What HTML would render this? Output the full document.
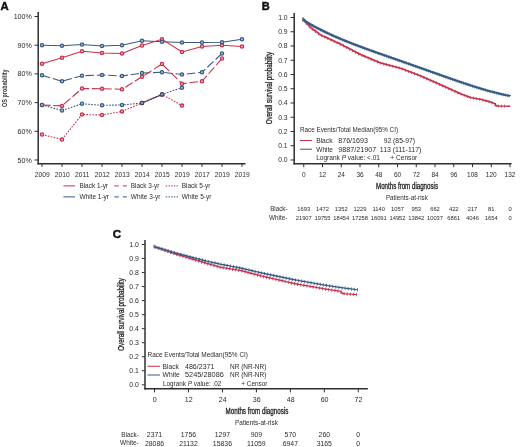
<!DOCTYPE html>
<html><head><meta charset="utf-8"><style>
html,body{margin:0;padding:0;background:#fff;}
body{width:520px;height:447px;overflow:hidden;}
svg{display:block;filter:blur(0.35px);}
text{font-family:"Liberation Sans",sans-serif;}
</style></head><body>
<svg width="520" height="447" viewBox="0 0 520 447" shape-rendering="geometricPrecision">
<rect width="520" height="447" fill="#fff"/>
<text x="0.6" y="10.1" font-size="11.2" fill="#111" text-anchor="start" font-weight="bold" textLength="8.2" lengthAdjust="spacingAndGlyphs" stroke="#111" stroke-width="0.45">A</text>
<text x="31.8" y="19.0" font-size="7.1" fill="#2c2c2c" text-anchor="end" font-weight="normal">100%</text>
<line x1="34.5" y1="16.5" x2="38" y2="16.5" stroke="#2f2f2f" stroke-width="1"/>
<text x="31.8" y="47.7" font-size="7.1" fill="#2c2c2c" text-anchor="end" font-weight="normal">90%</text>
<line x1="34.5" y1="45.2" x2="38" y2="45.2" stroke="#2f2f2f" stroke-width="1"/>
<text x="31.8" y="76.4" font-size="7.1" fill="#2c2c2c" text-anchor="end" font-weight="normal">80%</text>
<line x1="34.5" y1="73.9" x2="38" y2="73.9" stroke="#2f2f2f" stroke-width="1"/>
<text x="31.8" y="105.10000000000001" font-size="7.1" fill="#2c2c2c" text-anchor="end" font-weight="normal">70%</text>
<line x1="34.5" y1="102.60000000000001" x2="38" y2="102.60000000000001" stroke="#2f2f2f" stroke-width="1"/>
<text x="31.8" y="133.8" font-size="7.1" fill="#2c2c2c" text-anchor="end" font-weight="normal">60%</text>
<line x1="34.5" y1="131.3" x2="38" y2="131.3" stroke="#2f2f2f" stroke-width="1"/>
<text x="31.8" y="162.5" font-size="7.1" fill="#2c2c2c" text-anchor="end" font-weight="normal">50%</text>
<line x1="34.5" y1="160.0" x2="38" y2="160.0" stroke="#2f2f2f" stroke-width="1"/>
<line x1="38.2" y1="12" x2="38.2" y2="164.5" stroke="#2f2f2f" stroke-width="1.5"/>
<line x1="37.5" y1="163.8" x2="245.5" y2="163.8" stroke="#2f2f2f" stroke-width="1.5"/>
<line x1="42" y1="163.8" x2="42" y2="166.8" stroke="#2f2f2f" stroke-width="1"/>
<text x="42.2" y="176.9" font-size="6.7" fill="#2c2c2c" text-anchor="middle" font-weight="normal">2009</text>
<line x1="62" y1="163.8" x2="62" y2="166.8" stroke="#2f2f2f" stroke-width="1"/>
<text x="62.2" y="176.9" font-size="6.7" fill="#2c2c2c" text-anchor="middle" font-weight="normal">2010</text>
<line x1="82" y1="163.8" x2="82" y2="166.8" stroke="#2f2f2f" stroke-width="1"/>
<text x="82.2" y="176.9" font-size="6.7" fill="#2c2c2c" text-anchor="middle" font-weight="normal">2011</text>
<line x1="102" y1="163.8" x2="102" y2="166.8" stroke="#2f2f2f" stroke-width="1"/>
<text x="102.2" y="176.9" font-size="6.7" fill="#2c2c2c" text-anchor="middle" font-weight="normal">2012</text>
<line x1="122" y1="163.8" x2="122" y2="166.8" stroke="#2f2f2f" stroke-width="1"/>
<text x="122.2" y="176.9" font-size="6.7" fill="#2c2c2c" text-anchor="middle" font-weight="normal">2013</text>
<line x1="142" y1="163.8" x2="142" y2="166.8" stroke="#2f2f2f" stroke-width="1"/>
<text x="142.2" y="176.9" font-size="6.7" fill="#2c2c2c" text-anchor="middle" font-weight="normal">2014</text>
<line x1="162" y1="163.8" x2="162" y2="166.8" stroke="#2f2f2f" stroke-width="1"/>
<text x="162.2" y="176.9" font-size="6.7" fill="#2c2c2c" text-anchor="middle" font-weight="normal">2015</text>
<line x1="182" y1="163.8" x2="182" y2="166.8" stroke="#2f2f2f" stroke-width="1"/>
<text x="182.2" y="176.9" font-size="6.7" fill="#2c2c2c" text-anchor="middle" font-weight="normal">2019</text>
<line x1="202" y1="163.8" x2="202" y2="166.8" stroke="#2f2f2f" stroke-width="1"/>
<text x="202.2" y="176.9" font-size="6.7" fill="#2c2c2c" text-anchor="middle" font-weight="normal">2017</text>
<line x1="222" y1="163.8" x2="222" y2="166.8" stroke="#2f2f2f" stroke-width="1"/>
<text x="222.2" y="176.9" font-size="6.7" fill="#2c2c2c" text-anchor="middle" font-weight="normal">2019</text>
<line x1="242" y1="163.8" x2="242" y2="166.8" stroke="#2f2f2f" stroke-width="1"/>
<text x="242.2" y="176.9" font-size="6.7" fill="#2c2c2c" text-anchor="middle" font-weight="normal">2019</text>
<text transform="translate(7.4,88.2) rotate(-90)" font-size="7.8" font-weight="bold" fill="#333333" text-anchor="middle" textLength="37.5" lengthAdjust="spacingAndGlyphs">OS probability</text>
<polyline points="42,45.25 62,45.75 82,44.5 102,46 122,45.25 142,40.75 162,41.75 182,42.5 202,42.5 222,42.25 242,39.25" fill="none" stroke="#375a85" stroke-width="1.1"/>
<polyline points="42,63.75 62,57.75 82,51.25 102,53 122,53.5 142,45.5 162,39.25 182,52 202,46.5 222,45.25 242,46.5" fill="none" stroke="#c5304d" stroke-width="1.1"/>
<polyline points="42,75.25 62,81.25 82,75.75 102,75 122,76 142,73 162,72.25 182,74.5 202,72.25 222,53.5" fill="none" stroke="#375a85" stroke-width="1.1" stroke-dasharray="8.5,2.8"/>
<polyline points="42,105 62,105.9 82,88.5 102,88.75 122,89.25 142,76.75 162,64 182,83.75 202,81.25 222,58.5" fill="none" stroke="#c5304d" stroke-width="1.1" stroke-dasharray="8.5,2.8"/>
<polyline points="42,105 62,110.5 82,103.8 102,105.3 122,105 142,103 162,94.4 182,87.7" fill="none" stroke="#375a85" stroke-width="1.1" stroke-dasharray="1.6,1.4"/>
<polyline points="42,134.5 62,139.5 82,114.5 102,115 122,111.4 142,103 162,94.4 182,105.6" fill="none" stroke="#c5304d" stroke-width="1.1" stroke-dasharray="1.6,1.4"/>
<line x1="142" y1="103" x2="162" y2="94.4" stroke="#4a4670" stroke-width="1.1"/>
<circle cx="42" cy="63.75" r="1.6" fill="#eab4bf" stroke="#c5304d" stroke-width="1.3"/>
<circle cx="62" cy="57.75" r="1.6" fill="#eab4bf" stroke="#c5304d" stroke-width="1.3"/>
<circle cx="82" cy="51.25" r="1.6" fill="#eab4bf" stroke="#c5304d" stroke-width="1.3"/>
<circle cx="102" cy="53" r="1.6" fill="#eab4bf" stroke="#c5304d" stroke-width="1.3"/>
<circle cx="122" cy="53.5" r="1.6" fill="#eab4bf" stroke="#c5304d" stroke-width="1.3"/>
<circle cx="142" cy="45.5" r="1.6" fill="#eab4bf" stroke="#c5304d" stroke-width="1.3"/>
<circle cx="162" cy="39.25" r="1.6" fill="#eab4bf" stroke="#c5304d" stroke-width="1.3"/>
<circle cx="182" cy="52" r="1.6" fill="#eab4bf" stroke="#c5304d" stroke-width="1.3"/>
<circle cx="202" cy="46.5" r="1.6" fill="#eab4bf" stroke="#c5304d" stroke-width="1.3"/>
<circle cx="222" cy="45.25" r="1.6" fill="#eab4bf" stroke="#c5304d" stroke-width="1.3"/>
<circle cx="242" cy="46.5" r="1.6" fill="#eab4bf" stroke="#c5304d" stroke-width="1.3"/>
<circle cx="42" cy="45.25" r="1.6" fill="#b5c2d4" stroke="#375a85" stroke-width="1.3"/>
<circle cx="62" cy="45.75" r="1.6" fill="#b5c2d4" stroke="#375a85" stroke-width="1.3"/>
<circle cx="82" cy="44.5" r="1.6" fill="#b5c2d4" stroke="#375a85" stroke-width="1.3"/>
<circle cx="102" cy="46" r="1.6" fill="#b5c2d4" stroke="#375a85" stroke-width="1.3"/>
<circle cx="122" cy="45.25" r="1.6" fill="#b5c2d4" stroke="#375a85" stroke-width="1.3"/>
<circle cx="142" cy="40.75" r="1.6" fill="#b5c2d4" stroke="#375a85" stroke-width="1.3"/>
<circle cx="162" cy="41.75" r="1.6" fill="#b5c2d4" stroke="#375a85" stroke-width="1.3"/>
<circle cx="182" cy="42.5" r="1.6" fill="#b5c2d4" stroke="#375a85" stroke-width="1.3"/>
<circle cx="202" cy="42.5" r="1.6" fill="#b5c2d4" stroke="#375a85" stroke-width="1.3"/>
<circle cx="222" cy="42.25" r="1.6" fill="#b5c2d4" stroke="#375a85" stroke-width="1.3"/>
<circle cx="242" cy="39.25" r="1.6" fill="#b5c2d4" stroke="#375a85" stroke-width="1.3"/>
<circle cx="42" cy="105" r="1.6" fill="#eab4bf" stroke="#c5304d" stroke-width="1.3"/>
<circle cx="62" cy="105.9" r="1.6" fill="#eab4bf" stroke="#c5304d" stroke-width="1.3"/>
<circle cx="82" cy="88.5" r="1.6" fill="#eab4bf" stroke="#c5304d" stroke-width="1.3"/>
<circle cx="102" cy="88.75" r="1.6" fill="#eab4bf" stroke="#c5304d" stroke-width="1.3"/>
<circle cx="122" cy="89.25" r="1.6" fill="#eab4bf" stroke="#c5304d" stroke-width="1.3"/>
<circle cx="142" cy="76.75" r="1.6" fill="#eab4bf" stroke="#c5304d" stroke-width="1.3"/>
<circle cx="162" cy="64" r="1.6" fill="#eab4bf" stroke="#c5304d" stroke-width="1.3"/>
<circle cx="182" cy="83.75" r="1.6" fill="#eab4bf" stroke="#c5304d" stroke-width="1.3"/>
<circle cx="202" cy="81.25" r="1.6" fill="#eab4bf" stroke="#c5304d" stroke-width="1.3"/>
<circle cx="222" cy="58.5" r="1.6" fill="#eab4bf" stroke="#c5304d" stroke-width="1.3"/>
<circle cx="42" cy="75.25" r="1.6" fill="#b5c2d4" stroke="#375a85" stroke-width="1.3"/>
<circle cx="62" cy="81.25" r="1.6" fill="#b5c2d4" stroke="#375a85" stroke-width="1.3"/>
<circle cx="82" cy="75.75" r="1.6" fill="#b5c2d4" stroke="#375a85" stroke-width="1.3"/>
<circle cx="102" cy="75" r="1.6" fill="#b5c2d4" stroke="#375a85" stroke-width="1.3"/>
<circle cx="122" cy="76" r="1.6" fill="#b5c2d4" stroke="#375a85" stroke-width="1.3"/>
<circle cx="142" cy="73" r="1.6" fill="#b5c2d4" stroke="#375a85" stroke-width="1.3"/>
<circle cx="162" cy="72.25" r="1.6" fill="#b5c2d4" stroke="#375a85" stroke-width="1.3"/>
<circle cx="182" cy="74.5" r="1.6" fill="#b5c2d4" stroke="#375a85" stroke-width="1.3"/>
<circle cx="202" cy="72.25" r="1.6" fill="#b5c2d4" stroke="#375a85" stroke-width="1.3"/>
<circle cx="222" cy="53.5" r="1.6" fill="#b5c2d4" stroke="#375a85" stroke-width="1.3"/>
<circle cx="42" cy="134.5" r="1.6" fill="#eab4bf" stroke="#c5304d" stroke-width="1.3"/>
<circle cx="62" cy="139.5" r="1.6" fill="#eab4bf" stroke="#c5304d" stroke-width="1.3"/>
<circle cx="82" cy="114.5" r="1.6" fill="#eab4bf" stroke="#c5304d" stroke-width="1.3"/>
<circle cx="102" cy="115" r="1.6" fill="#eab4bf" stroke="#c5304d" stroke-width="1.3"/>
<circle cx="122" cy="111.4" r="1.6" fill="#eab4bf" stroke="#c5304d" stroke-width="1.3"/>
<circle cx="142" cy="103" r="1.6" fill="#eab4bf" stroke="#c5304d" stroke-width="1.3"/>
<circle cx="162" cy="94.4" r="1.6" fill="#eab4bf" stroke="#c5304d" stroke-width="1.3"/>
<circle cx="182" cy="105.6" r="1.6" fill="#eab4bf" stroke="#c5304d" stroke-width="1.3"/>
<circle cx="42" cy="105" r="1.6" fill="#b5c2d4" stroke="#375a85" stroke-width="1.3"/>
<circle cx="62" cy="110.5" r="1.6" fill="#b5c2d4" stroke="#375a85" stroke-width="1.3"/>
<circle cx="82" cy="103.8" r="1.6" fill="#b5c2d4" stroke="#375a85" stroke-width="1.3"/>
<circle cx="102" cy="105.3" r="1.6" fill="#b5c2d4" stroke="#375a85" stroke-width="1.3"/>
<circle cx="122" cy="105" r="1.6" fill="#b5c2d4" stroke="#375a85" stroke-width="1.3"/>
<circle cx="142" cy="103" r="1.6" fill="#b5c2d4" stroke="#375a85" stroke-width="1.3"/>
<circle cx="162" cy="94.4" r="1.6" fill="#b5c2d4" stroke="#375a85" stroke-width="1.3"/>
<circle cx="182" cy="87.7" r="1.6" fill="#b5c2d4" stroke="#375a85" stroke-width="1.3"/>
<circle cx="142" cy="103" r="1.6" fill="#b4b0c8" stroke="#4a4670" stroke-width="1.3"/>
<circle cx="162" cy="94.4" r="1.6" fill="#b4b0c8" stroke="#4a4670" stroke-width="1.3"/>
<line x1="63.4" y1="185.9" x2="75" y2="185.9" stroke="#c5304d" stroke-width="1"/>
<text x="79.4" y="188.4" font-size="6.8" fill="#2c2c2c" text-anchor="start" font-weight="normal" textLength="28.6" lengthAdjust="spacingAndGlyphs">Black 1-yr</text>
<line x1="63.4" y1="196.9" x2="75" y2="196.9" stroke="#375a85" stroke-width="1"/>
<text x="79.4" y="199.4" font-size="6.8" fill="#2c2c2c" text-anchor="start" font-weight="normal" textLength="29.6" lengthAdjust="spacingAndGlyphs">White 1-yr</text>
<line x1="114.3" y1="185.9" x2="127" y2="185.9" stroke="#c5304d" stroke-width="1" stroke-dasharray="4.5,4"/>
<text x="130.8" y="188.4" font-size="6.8" fill="#2c2c2c" text-anchor="start" font-weight="normal" textLength="28.6" lengthAdjust="spacingAndGlyphs">Black 3-yr</text>
<line x1="114.3" y1="196.9" x2="127" y2="196.9" stroke="#375a85" stroke-width="1" stroke-dasharray="4.5,4"/>
<text x="130.8" y="199.4" font-size="6.8" fill="#2c2c2c" text-anchor="start" font-weight="normal" textLength="29.6" lengthAdjust="spacingAndGlyphs">White 3-yr</text>
<line x1="165.7" y1="185.9" x2="177.9" y2="185.9" stroke="#c5304d" stroke-width="1" stroke-dasharray="1.5,1.2"/>
<text x="181.8" y="188.4" font-size="6.8" fill="#2c2c2c" text-anchor="start" font-weight="normal" textLength="28.6" lengthAdjust="spacingAndGlyphs">Black 5-yr</text>
<line x1="165.7" y1="196.9" x2="177.9" y2="196.9" stroke="#375a85" stroke-width="1" stroke-dasharray="1.5,1.2"/>
<text x="181.8" y="199.4" font-size="6.8" fill="#2c2c2c" text-anchor="start" font-weight="normal" textLength="29.6" lengthAdjust="spacingAndGlyphs">White 5-yr</text>
<text x="261.7" y="10.4" font-size="11" fill="#111" text-anchor="start" font-weight="bold" stroke="#111" stroke-width="0.45">B</text>
<text x="287.6" y="162.3" font-size="6.8" fill="#2c2c2c" text-anchor="end" font-weight="normal">0.0</text>
<line x1="290.5" y1="160.0" x2="294.2" y2="160.0" stroke="#2f2f2f" stroke-width="1"/>
<text x="287.6" y="148.05" font-size="6.8" fill="#2c2c2c" text-anchor="end" font-weight="normal">0.1</text>
<line x1="290.5" y1="145.75" x2="294.2" y2="145.75" stroke="#2f2f2f" stroke-width="1"/>
<text x="287.6" y="133.8" font-size="6.8" fill="#2c2c2c" text-anchor="end" font-weight="normal">0.2</text>
<line x1="290.5" y1="131.5" x2="294.2" y2="131.5" stroke="#2f2f2f" stroke-width="1"/>
<text x="287.6" y="119.55" font-size="6.8" fill="#2c2c2c" text-anchor="end" font-weight="normal">0.3</text>
<line x1="290.5" y1="117.25" x2="294.2" y2="117.25" stroke="#2f2f2f" stroke-width="1"/>
<text x="287.6" y="105.3" font-size="6.8" fill="#2c2c2c" text-anchor="end" font-weight="normal">0.4</text>
<line x1="290.5" y1="103.0" x2="294.2" y2="103.0" stroke="#2f2f2f" stroke-width="1"/>
<text x="287.6" y="91.05" font-size="6.8" fill="#2c2c2c" text-anchor="end" font-weight="normal">0.5</text>
<line x1="290.5" y1="88.75" x2="294.2" y2="88.75" stroke="#2f2f2f" stroke-width="1"/>
<text x="287.6" y="76.8" font-size="6.8" fill="#2c2c2c" text-anchor="end" font-weight="normal">0.6</text>
<line x1="290.5" y1="74.5" x2="294.2" y2="74.5" stroke="#2f2f2f" stroke-width="1"/>
<text x="287.6" y="62.55" font-size="6.8" fill="#2c2c2c" text-anchor="end" font-weight="normal">0.7</text>
<line x1="290.5" y1="60.25" x2="294.2" y2="60.25" stroke="#2f2f2f" stroke-width="1"/>
<text x="287.6" y="48.3" font-size="6.8" fill="#2c2c2c" text-anchor="end" font-weight="normal">0.8</text>
<line x1="290.5" y1="46.0" x2="294.2" y2="46.0" stroke="#2f2f2f" stroke-width="1"/>
<text x="287.6" y="34.05" font-size="6.8" fill="#2c2c2c" text-anchor="end" font-weight="normal">0.9</text>
<line x1="290.5" y1="31.75" x2="294.2" y2="31.75" stroke="#2f2f2f" stroke-width="1"/>
<text x="287.6" y="19.8" font-size="6.8" fill="#2c2c2c" text-anchor="end" font-weight="normal">1.0</text>
<line x1="290.5" y1="17.5" x2="294.2" y2="17.5" stroke="#2f2f2f" stroke-width="1"/>
<line x1="294.2" y1="13" x2="294.2" y2="164.5" stroke="#2f2f2f" stroke-width="1.5"/>
<line x1="293.5" y1="163.8" x2="511.5" y2="163.8" stroke="#2f2f2f" stroke-width="1.5"/>
<line x1="303.75" y1="163.8" x2="303.75" y2="167.2" stroke="#2f2f2f" stroke-width="1"/>
<text x="303.75" y="176.7" font-size="6.5" fill="#2c2c2c" text-anchor="middle" font-weight="normal">0</text>
<line x1="322.5" y1="163.8" x2="322.5" y2="167.2" stroke="#2f2f2f" stroke-width="1"/>
<text x="322.5" y="176.7" font-size="6.5" fill="#2c2c2c" text-anchor="middle" font-weight="normal">12</text>
<line x1="341.25" y1="163.8" x2="341.25" y2="167.2" stroke="#2f2f2f" stroke-width="1"/>
<text x="341.25" y="176.7" font-size="6.5" fill="#2c2c2c" text-anchor="middle" font-weight="normal">24</text>
<line x1="360.0" y1="163.8" x2="360.0" y2="167.2" stroke="#2f2f2f" stroke-width="1"/>
<text x="360.0" y="176.7" font-size="6.5" fill="#2c2c2c" text-anchor="middle" font-weight="normal">36</text>
<line x1="378.75" y1="163.8" x2="378.75" y2="167.2" stroke="#2f2f2f" stroke-width="1"/>
<text x="378.75" y="176.7" font-size="6.5" fill="#2c2c2c" text-anchor="middle" font-weight="normal">48</text>
<line x1="397.5" y1="163.8" x2="397.5" y2="167.2" stroke="#2f2f2f" stroke-width="1"/>
<text x="397.5" y="176.7" font-size="6.5" fill="#2c2c2c" text-anchor="middle" font-weight="normal">60</text>
<line x1="416.25" y1="163.8" x2="416.25" y2="167.2" stroke="#2f2f2f" stroke-width="1"/>
<text x="416.25" y="176.7" font-size="6.5" fill="#2c2c2c" text-anchor="middle" font-weight="normal">72</text>
<line x1="435.0" y1="163.8" x2="435.0" y2="167.2" stroke="#2f2f2f" stroke-width="1"/>
<text x="435.0" y="176.7" font-size="6.5" fill="#2c2c2c" text-anchor="middle" font-weight="normal">84</text>
<line x1="453.75" y1="163.8" x2="453.75" y2="167.2" stroke="#2f2f2f" stroke-width="1"/>
<text x="453.75" y="176.7" font-size="6.5" fill="#2c2c2c" text-anchor="middle" font-weight="normal">96</text>
<line x1="472.5" y1="163.8" x2="472.5" y2="167.2" stroke="#2f2f2f" stroke-width="1"/>
<text x="472.5" y="176.7" font-size="6.5" fill="#2c2c2c" text-anchor="middle" font-weight="normal">108</text>
<line x1="491.25" y1="163.8" x2="491.25" y2="167.2" stroke="#2f2f2f" stroke-width="1"/>
<text x="491.25" y="176.7" font-size="6.5" fill="#2c2c2c" text-anchor="middle" font-weight="normal">120</text>
<line x1="510.0" y1="163.8" x2="510.0" y2="167.2" stroke="#2f2f2f" stroke-width="1"/>
<text x="510.0" y="176.7" font-size="6.5" fill="#2c2c2c" text-anchor="middle" font-weight="normal">132</text>
<text transform="translate(272.3,88.1) rotate(-90)" font-size="8.8" font-weight="normal" fill="#222" stroke="#222" stroke-width="0.3" text-anchor="middle" textLength="72.5" lengthAdjust="spacingAndGlyphs">Overall survival probability</text>
<text x="376" y="189.1" font-size="8.8" fill="#222" text-anchor="start" font-weight="normal" textLength="62" lengthAdjust="spacingAndGlyphs" stroke="#222" stroke-width="0.3">Months from diagnosis</text>
<text x="385.9" y="199.8" font-size="6.4" fill="#2c2c2c" text-anchor="start" font-weight="normal" textLength="42" lengthAdjust="spacingAndGlyphs">Patients-at-risk</text>
<text x="287.5" y="211" font-size="6.3" fill="#2c2c2c" text-anchor="end" font-weight="normal" textLength="17.3" lengthAdjust="spacingAndGlyphs">Black-</text>
<text x="287.5" y="220" font-size="6.3" fill="#2c2c2c" text-anchor="end" font-weight="normal" textLength="18.5" lengthAdjust="spacingAndGlyphs">White-</text>
<text x="303.75" y="211" font-size="5.8" fill="#2c2c2c" text-anchor="middle" font-weight="normal">1693</text>
<text x="303.75" y="220" font-size="5.8" fill="#2c2c2c" text-anchor="middle" font-weight="normal">21907</text>
<text x="322.5" y="211" font-size="5.8" fill="#2c2c2c" text-anchor="middle" font-weight="normal">1472</text>
<text x="322.5" y="220" font-size="5.8" fill="#2c2c2c" text-anchor="middle" font-weight="normal">19755</text>
<text x="341.25" y="211" font-size="5.8" fill="#2c2c2c" text-anchor="middle" font-weight="normal">1352</text>
<text x="341.25" y="220" font-size="5.8" fill="#2c2c2c" text-anchor="middle" font-weight="normal">18454</text>
<text x="360.0" y="211" font-size="5.8" fill="#2c2c2c" text-anchor="middle" font-weight="normal">1229</text>
<text x="360.0" y="220" font-size="5.8" fill="#2c2c2c" text-anchor="middle" font-weight="normal">17258</text>
<text x="378.75" y="211" font-size="5.8" fill="#2c2c2c" text-anchor="middle" font-weight="normal">1140</text>
<text x="378.75" y="220" font-size="5.8" fill="#2c2c2c" text-anchor="middle" font-weight="normal">16091</text>
<text x="397.5" y="211" font-size="5.8" fill="#2c2c2c" text-anchor="middle" font-weight="normal">1057</text>
<text x="397.5" y="220" font-size="5.8" fill="#2c2c2c" text-anchor="middle" font-weight="normal">14952</text>
<text x="416.25" y="211" font-size="5.8" fill="#2c2c2c" text-anchor="middle" font-weight="normal">953</text>
<text x="416.25" y="220" font-size="5.8" fill="#2c2c2c" text-anchor="middle" font-weight="normal">13842</text>
<text x="435.0" y="211" font-size="5.8" fill="#2c2c2c" text-anchor="middle" font-weight="normal">662</text>
<text x="435.0" y="220" font-size="5.8" fill="#2c2c2c" text-anchor="middle" font-weight="normal">10037</text>
<text x="453.75" y="211" font-size="5.8" fill="#2c2c2c" text-anchor="middle" font-weight="normal">422</text>
<text x="453.75" y="220" font-size="5.8" fill="#2c2c2c" text-anchor="middle" font-weight="normal">6861</text>
<text x="472.5" y="211" font-size="5.8" fill="#2c2c2c" text-anchor="middle" font-weight="normal">217</text>
<text x="472.5" y="220" font-size="5.8" fill="#2c2c2c" text-anchor="middle" font-weight="normal">4046</text>
<text x="491.25" y="211" font-size="5.8" fill="#2c2c2c" text-anchor="middle" font-weight="normal">81</text>
<text x="491.25" y="220" font-size="5.8" fill="#2c2c2c" text-anchor="middle" font-weight="normal">1654</text>
<text x="510.0" y="211" font-size="5.8" fill="#2c2c2c" text-anchor="middle" font-weight="normal">0</text>
<text x="510.0" y="220" font-size="5.8" fill="#2c2c2c" text-anchor="middle" font-weight="normal">0</text>
<text x="300" y="131.9" font-size="6.4" fill="#2c2c2c" text-anchor="start" font-weight="normal" textLength="98" lengthAdjust="spacingAndGlyphs">Race Events/Total Median(95% CI)</text>
<line x1="300" y1="140.5" x2="312" y2="140.5" stroke="#c5304d" stroke-width="1"/>
<line x1="300" y1="149.2" x2="312" y2="149.2" stroke="#375a85" stroke-width="1"/>
<text x="316.2" y="142.8" font-size="6.5" fill="#2c2c2c" text-anchor="start" font-weight="normal" textLength="16.3" lengthAdjust="spacingAndGlyphs">Black</text>
<text x="338.2" y="142.8" font-size="6.5" fill="#2c2c2c" text-anchor="start" font-weight="normal" textLength="29.8" lengthAdjust="spacingAndGlyphs">876/1693</text>
<text x="383.7" y="142.8" font-size="6.5" fill="#2c2c2c" text-anchor="start" font-weight="normal" textLength="31.3" lengthAdjust="spacingAndGlyphs">92 (85-97)</text>
<text x="316.2" y="151.6" font-size="6.5" fill="#2c2c2c" text-anchor="start" font-weight="normal" textLength="16.8" lengthAdjust="spacingAndGlyphs">White</text>
<text x="338.2" y="151.6" font-size="6.5" fill="#2c2c2c" text-anchor="start" font-weight="normal" textLength="38" lengthAdjust="spacingAndGlyphs">9887/21907</text>
<text x="379.8" y="151.6" font-size="6.5" fill="#2c2c2c" text-anchor="start" font-weight="normal" textLength="41.5" lengthAdjust="spacingAndGlyphs">113 (111-117)</text>
<text x="316.2" y="160.3" font-size="6.5" fill="#2c2c2c" textLength="63.8" lengthAdjust="spacingAndGlyphs">Logrank <tspan font-style="italic">P</tspan> value: &lt;.01</text>
<text x="390.3" y="160.3" font-size="6.5" fill="#2c2c2c" text-anchor="start" font-weight="normal" textLength="27" lengthAdjust="spacingAndGlyphs">+ Censor</text>
<path d="M303,19.6H304.30V21.07H305.60V22.53H306.90V24.00H308.20V25.47H309.50V26.94H310.80V28.09H312.10V29.05H313.40V30.01H314.70V30.97H316.00V31.92H317.30V32.88H318.60V33.84H319.90V34.80H321.20V35.43H322.50V36.03H323.80V36.64H325.10V37.24H326.40V37.84H327.70V38.44H329.00V39.05H330.30V39.65H331.60V40.25H332.90V40.85H334.20V41.46H335.50V42.06H336.80V42.66H338.10V43.26H339.40V43.87H340.70V44.51H342.00V45.19H343.30V45.87H344.60V46.54H345.90V47.22H347.20V47.90H348.50V48.58H349.80V49.26H351.10V49.93H352.40V50.61H353.70V51.29H355.00V51.97H356.30V52.65H357.60V53.33H358.90V54.00H360.20V54.66H361.50V55.21H362.80V55.75H364.10V56.30H365.40V56.84H366.70V57.39H368.00V57.93H369.30V58.48H370.60V59.02H371.90V59.57H373.20V60.11H374.50V60.66H375.80V61.20H377.10V61.75H378.40V62.29H379.70V62.84H381.00V63.23H382.30V63.57H383.60V63.92H384.90V64.26H386.20V64.60H387.50V64.94H388.80V65.29H390.10V65.63H391.40V65.97H392.70V66.32H394.00V66.66H395.30V67.00H396.60V67.35H397.90V67.69H399.20V68.03H400.50V68.43H401.80V68.93H403.10V69.42H404.40V69.92H405.70V70.41H407.00V70.91H408.30V71.40H409.60V71.90H410.90V72.39H412.20V72.89H413.50V73.38H414.80V73.87H416.10V74.37H417.40V74.86H418.70V75.36H420.00V75.85H421.30V76.43H422.60V77.01H423.90V77.58H425.20V78.16H426.50V78.73H427.80V79.31H429.10V79.89H430.40V80.46H431.70V81.04H433.00V81.62H434.30V82.19H435.60V82.77H436.90V83.34H438.20V83.92H439.50V84.50H440.80V85.08H442.10V85.67H443.40V86.26H444.70V86.85H446.00V87.44H447.30V88.03H448.60V88.61H449.90V89.20H451.20V89.79H452.50V90.38H453.80V90.97H455.10V91.56H456.40V92.15H457.70V92.74H459.00V93.33H460.30V93.89H461.60V94.39H462.90V94.88H464.20V95.37H465.50V95.86H466.80V96.35H468.10V96.85H469.40V97.34H470.70V97.69H472.00V97.91H473.30V98.14H474.60V98.36H475.90V98.59H477.20V98.81H478.50V99.04H479.80V99.27H481.10V99.60H482.40V99.95H483.70V100.30H485.00V100.65H486.30V101.00H487.60V101.35H488.90V101.70H490.20V102.08H491.50V102.60H492.80V103.12H494.10V103.72H495.40V105.28H496.70V106.02H498.00V106.04H499.30V106.07H500.60V106.10H501.90V106.13H503.20V106.15H504.50V106.18H505.80V106.21H507.10V106.24H508.40V106.27H509.70V106.29H510.00V106.30" stroke="#c5304d" stroke-width="1.3" fill="none"/>
<path d="M303.00,18.10V21.10M306.10,21.60V24.60M309.20,25.10V28.10M312.30,27.70V30.70M315.40,29.98V32.98M318.50,32.27V35.27M321.60,34.12V37.12M324.70,35.55V38.55M327.80,36.99V39.99M330.90,38.43V41.43M334.00,39.86V42.86M337.10,41.30V44.30M340.20,42.75V45.75M343.30,44.37V47.37M346.40,45.98V48.98M349.50,47.60V50.60M352.60,49.22V52.22M355.70,50.83V53.83M358.80,52.45V55.45M361.90,53.87V56.87M365.00,55.17V58.17M368.10,56.47V59.47M371.20,57.77V60.77M374.30,59.07V62.07M377.40,60.37V63.37M380.50,61.60V64.60M383.60,62.42V65.42M386.70,63.23V66.23M389.80,64.05V67.05M392.90,64.87V67.87M396.00,65.69V68.69M399.10,66.51V69.51M402.20,67.58V70.58M405.30,68.76V71.76M408.40,69.94V72.94M411.50,71.12V74.12M414.60,72.30V75.30M417.70,73.48V76.48M420.80,74.71V77.71M423.90,76.08V79.08M427.00,77.46V80.46M430.10,78.83V81.83M433.20,80.20V83.20M436.30,81.58V84.58M439.40,82.95V85.95M442.50,84.35V87.35M445.60,85.75V88.75M448.70,87.16V90.16M451.80,88.56V91.56M454.90,89.97V92.97M458.00,91.37V94.37M461.10,92.70V95.70M464.20,93.87V96.87M467.30,95.04V98.04M470.40,96.14V99.14M473.50,96.67V99.67M476.60,97.21V100.21M479.70,97.75V100.75M482.80,98.56V101.56M485.90,99.39V102.39M489.00,100.23V103.23M492.10,101.34V104.34M495.20,103.54V106.54M498.30,104.55V107.55M501.40,104.62V107.62M504.50,104.68V107.68" stroke="#c5304d" stroke-width="0.8" fill="none"/>
<path d="M303,19.4H304.00V20.41H305.00V21.41H306.00V22.01H307.00V22.59H308.00V23.17H309.00V23.75H310.00V24.31H311.00V24.87H312.00V25.43H313.00V25.98H314.00V26.52H315.00V27.05H316.00V27.58H317.00V28.10H318.00V28.62H319.00V29.13H320.00V29.64H321.00V30.14H322.00V30.64H323.00V31.13H324.00V31.62H325.00V32.10H326.00V32.57H327.00V33.05H328.00V33.51H329.00V33.98H330.00V34.44H331.00V34.89H332.00V35.34H333.00V35.79H334.00V36.23H335.00V36.67H336.00V37.11H337.00V37.54H338.00V37.97H339.00V38.39H340.00V38.81H341.00V39.23H342.00V39.65H343.00V40.06H344.00V40.47H345.00V40.87H346.00V41.28H347.00V41.68H348.00V42.08H349.00V42.47H350.00V42.87H351.00V43.26H352.00V43.65H353.00V44.03H354.00V44.42H355.00V44.80H356.00V45.18H357.00V45.56H358.00V45.94H359.00V46.31H360.00V46.69H361.00V47.06H362.00V47.43H363.00V47.80H364.00V48.17H365.00V48.53H366.00V48.90H367.00V49.26H368.00V49.63H369.00V49.99H370.00V50.35H371.00V50.71H372.00V51.07H373.00V51.42H374.00V51.78H375.00V52.14H376.00V52.49H377.00V52.85H378.00V53.20H379.00V53.56H380.00V53.91H381.00V54.26H382.00V54.61H383.00V54.97H384.00V55.32H385.00V55.67H386.00V56.02H387.00V56.37H388.00V56.72H389.00V57.07H390.00V57.42H391.00V57.77H392.00V58.12H393.00V58.47H394.00V58.82H395.00V59.17H396.00V59.52H397.00V59.87H398.00V60.22H399.00V60.57H400.00V60.92H401.00V61.27H402.00V61.62H403.00V61.97H404.00V62.32H405.00V62.67H406.00V63.02H407.00V63.37H408.00V63.72H409.00V64.07H410.00V64.42H411.00V64.77H412.00V65.13H413.00V65.48H414.00V65.83H415.00V66.18H416.00V66.53H417.00V66.89H418.00V67.24H419.00V67.59H420.00V67.95H421.00V68.30H422.00V68.65H423.00V69.01H424.00V69.36H425.00V69.72H426.00V70.07H427.00V70.43H428.00V70.78H429.00V71.13H430.00V71.49H431.00V71.84H432.00V72.20H433.00V72.55H434.00V72.91H435.00V73.26H436.00V73.62H437.00V73.97H438.00V74.33H439.00V74.68H440.00V75.03H441.00V75.39H442.00V75.74H443.00V76.09H444.00V76.45H445.00V76.80H446.00V77.15H447.00V77.50H448.00V77.85H449.00V78.20H450.00V78.55H451.00V78.90H452.00V79.25H453.00V79.60H454.00V79.94H455.00V80.29H456.00V80.64H457.00V80.98H458.00V81.32H459.00V81.67H460.00V82.01H461.00V82.35H462.00V82.69H463.00V83.02H464.00V83.36H465.00V83.69H466.00V84.03H467.00V84.36H468.00V84.69H469.00V85.02H470.00V85.34H471.00V85.67H472.00V85.99H473.00V86.31H474.00V86.63H475.00V86.95H476.00V87.26H477.00V87.57H478.00V87.88H479.00V88.19H480.00V88.50H481.00V88.80H482.00V89.10H483.00V89.39H484.00V89.69H485.00V89.98H486.00V90.27H487.00V90.55H488.00V90.83H489.00V91.11H490.00V91.39H491.00V91.66H492.00V91.93H493.00V92.19H494.00V92.45H495.00V92.71H496.00V92.96H497.00V93.21H498.00V93.45H499.00V93.69H500.00V93.93H501.00V94.16H502.00V94.38H503.00V94.60H504.00V94.82H505.00V95.03H506.00V95.24H507.00V95.44H508.00V95.63H509.00V95.82H510.00V96.01" stroke="#375a85" stroke-width="1.7" fill="none"/>
<path d="M303.00,17.80V21.00M305.20,19.93V23.13M307.40,21.23V24.43M309.60,22.49V25.69M311.80,23.72V26.92M314.00,24.92V28.12M316.20,26.09V29.29M318.40,27.23V30.43M320.60,28.34V31.54M322.80,29.43V32.63M325.00,30.50V33.70M327.20,31.54V34.74M329.40,32.56V35.76M331.60,33.56V36.76M333.80,34.54V37.74M336.00,35.51V38.71M338.20,36.45V39.65M340.40,37.38V40.58M342.60,38.29V41.49M344.80,39.19V42.39M347.00,40.08V43.28M349.20,40.95V44.15M351.40,41.81V45.01M353.60,42.66V45.86M355.80,43.51V46.71M358.00,44.34V47.54M360.20,45.16V48.36M362.40,45.98V49.18M364.60,46.79V49.99M366.80,47.59V50.79M369.00,48.39V51.59M371.20,49.18V52.38M373.40,49.97V53.17M375.60,50.75V53.95M377.80,51.53V54.73M380.00,52.31V55.51M382.20,53.08V56.28M384.40,53.86V57.06M386.60,54.63V57.83M388.80,55.40V58.60M391.00,56.17V59.37M393.20,56.94V60.14M395.40,57.71V60.91M397.60,58.48V61.68M399.80,59.25V62.45M402.00,60.02V63.22M404.20,60.79V63.99M406.40,61.56V64.76M408.60,62.33V65.53M410.80,63.10V66.30M413.00,63.88V67.08M415.20,64.65V67.85M417.40,65.43V68.63M419.60,66.21V69.41M421.80,66.98V70.18M424.00,67.76V70.96M426.20,68.54V71.74M428.40,69.32V72.52M430.60,70.10V73.30M432.80,70.88V74.08M435.00,71.66V74.86M437.20,72.44V75.64M439.40,73.22V76.42M441.60,74.00V77.20M443.80,74.78V77.98M446.00,75.55V78.75M448.20,76.32V79.52M450.40,77.09V80.29M452.60,77.86V81.06M454.80,78.62V81.82M457.00,79.38V82.58M459.20,80.13V83.33M461.40,80.88V84.08M463.60,81.62V84.82M465.80,82.36V85.56M468.00,83.09V86.29M470.20,83.81V87.01M472.40,84.52V87.72M474.60,85.22V88.42M476.80,85.91V89.11M479.00,86.59V89.79M481.20,87.26V90.46M483.40,87.91V91.11M485.60,88.55V91.75M487.80,89.18V92.38M490.00,89.79V92.99M492.20,90.38V93.58M494.40,90.95V94.15M496.60,91.51V94.71M498.80,92.04V95.24M501.00,92.56V95.76M503.20,93.05V96.25M505.40,93.51V96.71M507.60,93.96V97.16" stroke="#375a85" stroke-width="0.7" fill="none"/>
<line x1="303" y1="17.2" x2="303" y2="21.8" stroke="#4a5a78" stroke-width="0.9"/>
<text x="112.7" y="237.5" font-size="11.6" fill="#111" text-anchor="start" font-weight="bold" stroke="#111" stroke-width="0.45">C</text>
<text x="138.9" y="387.2" font-size="6.9" fill="#2c2c2c" text-anchor="end" font-weight="normal">0.0</text>
<line x1="141.8" y1="384.8" x2="144.8" y2="384.8" stroke="#2f2f2f" stroke-width="1"/>
<text x="138.9" y="373.16999999999996" font-size="6.9" fill="#2c2c2c" text-anchor="end" font-weight="normal">0.1</text>
<line x1="141.8" y1="370.77" x2="144.8" y2="370.77" stroke="#2f2f2f" stroke-width="1"/>
<text x="138.9" y="359.14" font-size="6.9" fill="#2c2c2c" text-anchor="end" font-weight="normal">0.2</text>
<line x1="141.8" y1="356.74" x2="144.8" y2="356.74" stroke="#2f2f2f" stroke-width="1"/>
<text x="138.9" y="345.11" font-size="6.9" fill="#2c2c2c" text-anchor="end" font-weight="normal">0.3</text>
<line x1="141.8" y1="342.71000000000004" x2="144.8" y2="342.71000000000004" stroke="#2f2f2f" stroke-width="1"/>
<text x="138.9" y="331.08" font-size="6.9" fill="#2c2c2c" text-anchor="end" font-weight="normal">0.4</text>
<line x1="141.8" y1="328.68" x2="144.8" y2="328.68" stroke="#2f2f2f" stroke-width="1"/>
<text x="138.9" y="317.04999999999995" font-size="6.9" fill="#2c2c2c" text-anchor="end" font-weight="normal">0.5</text>
<line x1="141.8" y1="314.65" x2="144.8" y2="314.65" stroke="#2f2f2f" stroke-width="1"/>
<text x="138.9" y="303.02" font-size="6.9" fill="#2c2c2c" text-anchor="end" font-weight="normal">0.6</text>
<line x1="141.8" y1="300.62" x2="144.8" y2="300.62" stroke="#2f2f2f" stroke-width="1"/>
<text x="138.9" y="288.99" font-size="6.9" fill="#2c2c2c" text-anchor="end" font-weight="normal">0.7</text>
<line x1="141.8" y1="286.59000000000003" x2="144.8" y2="286.59000000000003" stroke="#2f2f2f" stroke-width="1"/>
<text x="138.9" y="274.96" font-size="6.9" fill="#2c2c2c" text-anchor="end" font-weight="normal">0.8</text>
<line x1="141.8" y1="272.56" x2="144.8" y2="272.56" stroke="#2f2f2f" stroke-width="1"/>
<text x="138.9" y="260.92999999999995" font-size="6.9" fill="#2c2c2c" text-anchor="end" font-weight="normal">0.9</text>
<line x1="141.8" y1="258.53" x2="144.8" y2="258.53" stroke="#2f2f2f" stroke-width="1"/>
<text x="138.9" y="246.9" font-size="6.9" fill="#2c2c2c" text-anchor="end" font-weight="normal">1.0</text>
<line x1="141.8" y1="244.5" x2="144.8" y2="244.5" stroke="#2f2f2f" stroke-width="1"/>
<line x1="145" y1="240" x2="145" y2="389.5" stroke="#2f2f2f" stroke-width="1.5"/>
<line x1="144.3" y1="388.8" x2="367.8" y2="388.8" stroke="#2f2f2f" stroke-width="1.5"/>
<line x1="154.5" y1="388.8" x2="154.5" y2="392.4" stroke="#2f2f2f" stroke-width="1"/>
<text x="154.8" y="402.3" font-size="7.1" fill="#2c2c2c" text-anchor="middle" font-weight="normal">0</text>
<line x1="188.46" y1="388.8" x2="188.46" y2="392.4" stroke="#2f2f2f" stroke-width="1"/>
<text x="188.76000000000002" y="402.3" font-size="7.1" fill="#2c2c2c" text-anchor="middle" font-weight="normal">12</text>
<line x1="222.42000000000002" y1="388.8" x2="222.42000000000002" y2="392.4" stroke="#2f2f2f" stroke-width="1"/>
<text x="222.72000000000003" y="402.3" font-size="7.1" fill="#2c2c2c" text-anchor="middle" font-weight="normal">24</text>
<line x1="256.38" y1="388.8" x2="256.38" y2="392.4" stroke="#2f2f2f" stroke-width="1"/>
<text x="256.68" y="402.3" font-size="7.1" fill="#2c2c2c" text-anchor="middle" font-weight="normal">36</text>
<line x1="290.34000000000003" y1="388.8" x2="290.34000000000003" y2="392.4" stroke="#2f2f2f" stroke-width="1"/>
<text x="290.64000000000004" y="402.3" font-size="7.1" fill="#2c2c2c" text-anchor="middle" font-weight="normal">48</text>
<line x1="324.3" y1="388.8" x2="324.3" y2="392.4" stroke="#2f2f2f" stroke-width="1"/>
<text x="324.6" y="402.3" font-size="7.1" fill="#2c2c2c" text-anchor="middle" font-weight="normal">60</text>
<line x1="358.26" y1="388.8" x2="358.26" y2="392.4" stroke="#2f2f2f" stroke-width="1"/>
<text x="358.56" y="402.3" font-size="7.1" fill="#2c2c2c" text-anchor="middle" font-weight="normal">72</text>
<text transform="translate(124.1,314.4) rotate(-90)" font-size="8.8" font-weight="normal" fill="#222" stroke="#222" stroke-width="0.3" text-anchor="middle" textLength="72.7" lengthAdjust="spacingAndGlyphs">Overall survival probability</text>
<text x="225.5" y="414.3" font-size="8.8" fill="#222" text-anchor="start" font-weight="normal" textLength="62.8" lengthAdjust="spacingAndGlyphs" stroke="#222" stroke-width="0.3">Months from diagnosis</text>
<text x="235" y="425" font-size="6.4" fill="#2c2c2c" text-anchor="start" font-weight="normal" textLength="43" lengthAdjust="spacingAndGlyphs">Patients-at-risk</text>
<text x="138.8" y="436.6" font-size="6.3" fill="#2c2c2c" text-anchor="end" font-weight="normal" textLength="17.5" lengthAdjust="spacingAndGlyphs">Black-</text>
<text x="138.8" y="445.4" font-size="6.3" fill="#2c2c2c" text-anchor="end" font-weight="normal" textLength="18.8" lengthAdjust="spacingAndGlyphs">White-</text>
<text x="154.5" y="436.7" font-size="6.9" fill="#2c2c2c" text-anchor="middle" font-weight="normal">2371</text>
<text x="154.5" y="445.6" font-size="6.9" fill="#2c2c2c" text-anchor="middle" font-weight="normal">28086</text>
<text x="188.46" y="436.7" font-size="6.9" fill="#2c2c2c" text-anchor="middle" font-weight="normal">1756</text>
<text x="188.46" y="445.6" font-size="6.9" fill="#2c2c2c" text-anchor="middle" font-weight="normal">21132</text>
<text x="222.42000000000002" y="436.7" font-size="6.9" fill="#2c2c2c" text-anchor="middle" font-weight="normal">1297</text>
<text x="222.42000000000002" y="445.6" font-size="6.9" fill="#2c2c2c" text-anchor="middle" font-weight="normal">15836</text>
<text x="256.38" y="436.7" font-size="6.9" fill="#2c2c2c" text-anchor="middle" font-weight="normal">909</text>
<text x="256.38" y="445.6" font-size="6.9" fill="#2c2c2c" text-anchor="middle" font-weight="normal">11059</text>
<text x="290.34000000000003" y="436.7" font-size="6.9" fill="#2c2c2c" text-anchor="middle" font-weight="normal">570</text>
<text x="290.34000000000003" y="445.6" font-size="6.9" fill="#2c2c2c" text-anchor="middle" font-weight="normal">6947</text>
<text x="324.3" y="436.7" font-size="6.9" fill="#2c2c2c" text-anchor="middle" font-weight="normal">260</text>
<text x="324.3" y="445.6" font-size="6.9" fill="#2c2c2c" text-anchor="middle" font-weight="normal">3165</text>
<text x="358.26" y="436.7" font-size="6.9" fill="#2c2c2c" text-anchor="middle" font-weight="normal">0</text>
<text x="358.26" y="445.6" font-size="6.9" fill="#2c2c2c" text-anchor="middle" font-weight="normal">0</text>
<text x="147.5" y="357.3" font-size="6.4" fill="#2c2c2c" text-anchor="start" font-weight="normal" textLength="100.5" lengthAdjust="spacingAndGlyphs">Race Events/Total Median(95% CI)</text>
<line x1="147.5" y1="366.25" x2="160" y2="366.25" stroke="#c5304d" stroke-width="1"/>
<line x1="147.5" y1="375" x2="160" y2="375" stroke="#375a85" stroke-width="1"/>
<text x="162.5" y="368.6" font-size="6.5" fill="#2c2c2c" text-anchor="start" font-weight="normal" textLength="16.3" lengthAdjust="spacingAndGlyphs">Black</text>
<text x="185" y="368.6" font-size="6.5" fill="#2c2c2c" text-anchor="start" font-weight="normal" textLength="29.5" lengthAdjust="spacingAndGlyphs">486/2371</text>
<text x="230" y="368.6" font-size="6.5" fill="#2c2c2c" text-anchor="start" font-weight="normal" textLength="36.3" lengthAdjust="spacingAndGlyphs">NR (NR-NR)</text>
<text x="162.5" y="376.9" font-size="6.5" fill="#2c2c2c" text-anchor="start" font-weight="normal" textLength="17.3" lengthAdjust="spacingAndGlyphs">White</text>
<text x="185" y="376.9" font-size="6.5" fill="#2c2c2c" text-anchor="start" font-weight="normal" textLength="38.8" lengthAdjust="spacingAndGlyphs">5245/28086</text>
<text x="230" y="376.9" font-size="6.5" fill="#2c2c2c" text-anchor="start" font-weight="normal" textLength="36.3" lengthAdjust="spacingAndGlyphs">NR (NR-NR)</text>
<text x="163" y="385.6" font-size="6.5" fill="#2c2c2c" textLength="58.3" lengthAdjust="spacingAndGlyphs">Logrank <tspan font-style="italic">P</tspan> value: .02</text>
<text x="241.2" y="385.6" font-size="6.5" fill="#2c2c2c" text-anchor="start" font-weight="normal" textLength="26.3" lengthAdjust="spacingAndGlyphs">+ Censor</text>
<path d="M154,246.8H155.20V247.21H156.40V247.61H157.60V248.02H158.80V248.43H160.00V248.84H161.20V249.24H162.40V249.65H163.60V250.06H164.80V250.47H166.00V250.87H167.20V251.28H168.40V251.69H169.60V252.10H170.80V252.50H172.00V252.91H173.20V253.32H174.40V253.72H175.60V254.13H176.80V254.50H178.00V254.87H179.20V255.23H180.40V255.59H181.60V255.96H182.80V256.32H184.00V256.68H185.20V257.05H186.40V257.41H187.60V257.77H188.80V258.14H190.00V258.50H191.20V258.87H192.40V259.23H193.60V259.59H194.80V259.96H196.00V260.32H197.20V260.68H198.40V261.05H199.60V261.41H200.80V261.77H202.00V262.14H203.20V262.50H204.40V262.86H205.60V263.23H206.80V263.58H208.00V263.92H209.20V264.26H210.40V264.60H211.60V264.94H212.80V265.27H214.00V265.61H215.20V265.95H216.40V266.29H217.60V266.62H218.80V266.96H220.00V267.30H221.20V267.49H222.40V267.68H223.60V267.88H224.80V268.07H226.00V268.26H227.20V268.45H228.40V268.64H229.60V268.84H230.80V269.03H232.00V269.22H233.20V269.41H234.40V269.60H235.60V269.80H236.80V269.99H238.00V270.18H239.20V270.37H240.40V270.61H241.60V270.92H242.80V271.24H244.00V271.56H245.20V271.88H246.40V272.20H247.60V272.51H248.80V272.83H250.00V273.15H251.20V273.47H252.40V273.79H253.60V274.10H254.80V274.42H256.00V274.74H257.20V275.06H258.40V275.38H259.60V275.69H260.80V275.98H262.00V276.26H263.20V276.53H264.40V276.81H265.60V277.08H266.80V277.35H268.00V277.63H269.20V277.90H270.40V278.18H271.60V278.45H272.80V278.73H274.00V279.00H275.20V279.27H276.40V279.55H277.60V279.82H278.80V280.10H280.00V280.37H281.20V280.65H282.40V280.92H283.60V281.19H284.80V281.47H286.00V281.74H287.20V282.02H288.40V282.29H289.60V282.57H290.80V282.84H292.00V283.11H293.20V283.39H294.40V283.66H295.60V283.91H296.80V284.12H298.00V284.33H299.20V284.54H300.40V284.75H301.60V284.96H302.80V285.17H304.00V285.38H305.20V285.59H306.40V285.80H307.60V286.01H308.80V286.22H310.00V286.43H311.20V286.64H312.40V286.85H313.60V287.06H314.80V287.27H316.00V287.48H317.20V287.69H318.40V287.90H319.60V288.11H320.80V288.32H322.00V288.53H323.20V288.74H324.40V288.95H325.60V289.16H326.80V289.35H328.00V289.53H329.20V289.70H330.40V289.88H331.60V290.06H332.80V290.24H334.00V290.41H335.20V290.59H336.40V290.77H337.60V290.95H338.80V291.12H340.00V291.30H341.20V292.68H342.40V293.63H343.60V293.71H344.80V293.79H346.00V293.88H347.20V293.96H348.40V294.04H349.60V294.12H350.80V294.21H352.00V294.29H353.20V294.37H354.40V294.46H355.60V294.54H356.50V294.60" stroke="#c5304d" stroke-width="1.1" fill="none"/>
<path d="M155.00,245.44V248.84M158.10,246.49V249.89M161.20,247.54V250.94M164.30,248.60V252.00M167.40,249.65V253.05M170.50,250.70V254.10M173.60,251.75V255.15M176.70,252.77V256.17M179.80,253.71V257.11M182.90,254.65V258.05M186.00,255.59V258.99M189.10,256.53V259.93M192.20,257.47V260.87M195.30,258.41V261.81M198.40,259.35V262.75M201.50,260.29V263.69M204.60,261.22V264.62M207.70,262.14V265.54M210.80,263.01V266.41M213.90,263.88V267.28M217.00,264.76V268.16M220.10,265.62V269.02M223.20,266.11V269.51M226.30,266.61V270.01M229.40,267.10V270.50M232.50,267.60V271.00M235.60,268.10V271.50M238.70,268.59V271.99M241.80,269.28V272.68M244.90,270.10V273.50M248.00,270.92V274.32M251.10,271.74V275.14M254.20,272.56V275.96M257.30,273.38V276.78M260.40,274.19V277.59M263.50,274.90V278.30M266.60,275.61V279.01M269.70,276.32V279.72M272.80,277.03V280.43M275.90,277.73V281.13M279.00,278.44V281.84M282.10,279.15V282.55M285.20,279.86V283.26M288.30,280.57V283.97M291.40,281.28V284.68M294.50,281.99V285.39M297.60,282.56V285.96M300.70,283.10V286.50M303.80,283.64V287.04M306.90,284.19V287.59M310.00,284.73V288.13M313.10,285.27V288.67M316.20,285.82V289.22M319.30,286.36V289.76M322.40,286.90V290.30M325.50,287.45V290.85M328.60,287.91V291.31M331.70,288.37V291.77M334.80,288.83V292.23M337.90,289.29V292.69M341.00,290.75V294.15M344.10,292.04V295.44M347.20,292.26V295.66M350.30,292.47V295.87M353.40,292.69V296.09M356.50,292.90V296.30" stroke="#c5304d" stroke-width="0.8" fill="none"/>
<path d="M154,246.6H155.20V246.96H156.40V247.33H157.60V247.69H158.80V248.05H160.00V248.42H161.20V248.78H162.40V249.14H163.60V249.51H164.80V249.87H166.00V250.23H167.20V250.60H168.40V250.96H169.60V251.32H170.80V251.69H172.00V252.05H173.20V252.41H174.40V252.78H175.60V253.14H176.80V253.46H178.00V253.77H179.20V254.09H180.40V254.40H181.60V254.71H182.80V255.02H184.00V255.34H185.20V255.65H186.40V255.96H187.60V256.27H188.80V256.59H190.00V256.90H191.20V257.21H192.40V257.53H193.60V257.84H194.80V258.15H196.00V258.46H197.20V258.78H198.40V259.09H199.60V259.40H200.80V259.71H202.00V260.03H203.20V260.34H204.40V260.65H205.60V260.97H206.80V261.27H208.00V261.53H209.20V261.80H210.40V262.07H211.60V262.33H212.80V262.60H214.00V262.87H215.20V263.13H216.40V263.40H217.60V263.67H218.80V263.93H220.00V264.20H221.20V264.43H222.40V264.66H223.60V264.88H224.80V265.11H226.00V265.34H227.20V265.57H228.40V265.80H229.60V266.02H230.80V266.25H232.00V266.48H233.20V266.71H234.40V266.94H235.60V267.16H236.80V267.39H238.00V267.62H239.20V267.85H240.40V268.09H241.60V268.38H242.80V268.66H244.00V268.94H245.20V269.22H246.40V269.50H247.60V269.79H248.80V270.07H250.00V270.35H251.20V270.63H252.40V270.91H253.60V271.20H254.80V271.48H256.00V271.76H257.20V272.04H258.40V272.32H259.60V272.61H260.80V272.87H262.00V273.12H263.20V273.37H264.40V273.62H265.60V273.87H266.80V274.12H268.00V274.37H269.20V274.62H270.40V274.87H271.60V275.12H272.80V275.37H274.00V275.62H275.20V275.87H276.40V276.12H277.60V276.37H278.80V276.62H280.00V276.87H281.20V277.12H282.40V277.37H283.60V277.62H284.80V277.87H286.00V278.12H287.20V278.37H288.40V278.62H289.60V278.87H290.80V279.12H292.00V279.37H293.20V279.62H294.40V279.87H295.60V280.11H296.80V280.32H298.00V280.53H299.20V280.74H300.40V280.95H301.60V281.16H302.80V281.37H304.00V281.58H305.20V281.79H306.40V282.00H307.60V282.21H308.80V282.42H310.00V282.63H311.20V282.84H312.40V283.05H313.60V283.26H314.80V283.47H316.00V283.68H317.20V283.89H318.40V284.10H319.60V284.31H320.80V284.52H322.00V284.73H323.20V284.94H324.40V285.15H325.60V285.36H326.80V285.55H328.00V285.73H329.20V285.91H330.40V286.10H331.60V286.28H332.80V286.46H334.00V286.64H335.20V286.82H336.40V287.00H337.60V287.19H338.80V287.37H340.00V287.55H341.20V287.73H342.40V287.88H343.60V288.04H344.80V288.19H346.00V288.35H347.20V288.50H348.40V288.65H349.60V288.81H350.80V288.96H352.00V289.12H353.20V289.27H354.40V289.43H355.60V289.58H356.50V289.70" stroke="#375a85" stroke-width="1.1" fill="none"/>
<path d="M156.00,245.51V248.91M159.10,246.44V249.84M162.20,247.38V250.78M165.30,248.32V251.72M168.40,249.26V252.66M171.50,250.20V253.60M174.60,251.14V254.54M177.70,252.00V255.40M180.80,252.80V256.20M183.90,253.61V257.01M187.00,254.42V257.82M190.10,255.23V258.63M193.20,256.03V259.43M196.30,256.84V260.24M199.40,257.65V261.05M202.50,258.46V261.86M205.60,259.27V262.67M208.70,259.99V263.39M211.80,260.68V264.08M214.90,261.37V264.77M218.00,262.06V265.46M221.10,262.71V266.11M224.20,263.30V266.70M227.30,263.89V267.29M230.40,264.48V267.88M233.50,265.06V268.46M236.60,265.65V269.05M239.70,266.24V269.64M242.80,266.96V270.36M245.90,267.69V271.09M249.00,268.42V271.81M252.10,269.14V272.54M255.20,269.87V273.27M258.30,270.60V274.00M261.40,271.29V274.69M264.50,271.94V275.34M267.60,272.59V275.99M270.70,273.23V276.63M273.80,273.88V277.28M276.90,274.52V277.92M280.00,275.17V278.57M283.10,275.82V279.22M286.20,276.46V279.86M289.30,277.11V280.51M292.40,277.76V281.16M295.50,278.39V281.79M298.60,278.93V282.33M301.70,279.47V282.87M304.80,280.02V283.42M307.90,280.56V283.96M311.00,281.11V284.51M314.10,281.65V285.05M317.20,282.19V285.59M320.30,282.74V286.14M323.40,283.28V286.68M326.50,283.81V287.21M329.60,284.27V287.67M332.70,284.74V288.14M335.80,285.21V288.61M338.90,285.68V289.08M342.00,286.13V289.53M345.10,286.53V289.93M348.20,286.93V290.33M351.30,287.33V290.73M354.40,287.73V291.13M357.50,288.00V291.40" stroke="#375a85" stroke-width="0.8" fill="none"/>
<line x1="154" y1="244.4" x2="154" y2="248.2" stroke="#4a5a78" stroke-width="0.9"/>
</svg>
</body></html>
